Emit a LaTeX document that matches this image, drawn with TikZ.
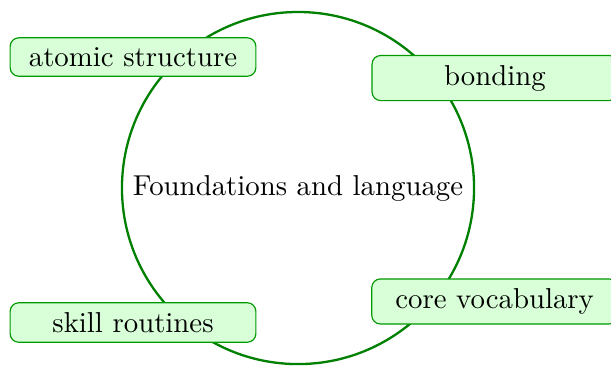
\documentclass[tikz,border=0pt]{standalone}
\usetikzlibrary{shapes.geometric}
\begin{document}
\begin{tikzpicture}[x=1pt,y=1pt,
  hub/.style={circle,draw=green!50!black,thick,inner sep=3.33pt},
  topic/.style={draw=green!60!black,fill=green!15,rounded corners=3pt,minimum width=3cm}]
\useasboundingbox (0,0) rectangle (212.2,-127.1);
\node[hub] (c) at (103.5,-65.3) {Foundations and language};
\node[topic] (a) at (46.2,-19.8) {atomic structure};
\node[topic] (b) at (171.9,-27.1) {bonding};
\node[topic] (s) at (46.2,-112) {skill routines};
\node[topic] (v) at (171.8,-104.7) {core vocabulary};
\end{tikzpicture}
\end{document}
